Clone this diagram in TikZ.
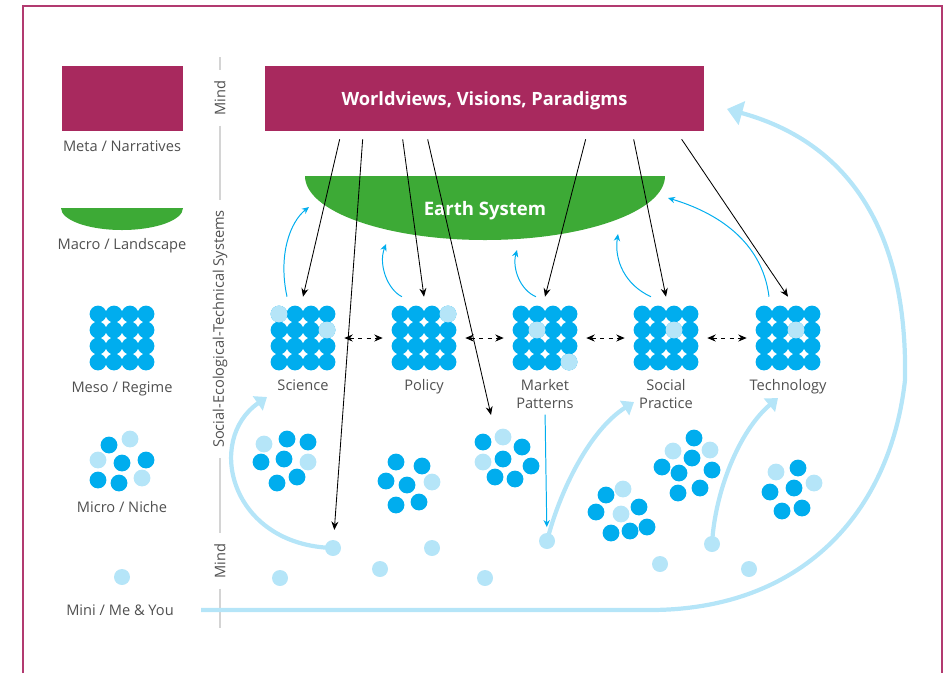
\documentclass[tikz,border=0pt]{standalone}
\usepackage{fontspec}
\setmainfont{Open Sans}
\usepackage{tikz}
\usetikzlibrary{calc, positioning, arrows.meta}

\definecolor{metaRed}{HTML}{A8295E}
\definecolor{earthGreen}{HTML}{3DAA36}
\definecolor{dotDark}{HTML}{00ADEE}
\definecolor{dotLight}{HTML}{B5E5F8}
\definecolor{txtGray}{HTML}{505050}
\definecolor{ruleGray}{HTML}{D4D4D4}
\definecolor{frameRed}{HTML}{B23A70}

\newcommand{\lblfont}{\fontsize{10.4}{12.8}\selectfont}

\tikzset{
	lbl/.style={text=txtGray, font=\lblfont, inner sep=0pt, align=center},
	sidelbl/.style={lbl, rotate=90, inner xsep=7pt},
	mini/.style={circle, fill=dotLight, inner sep=0pt, minimum size=0.4cm},
	mesobox/.style={inner sep=0pt, minimum size=2.05cm},
	push/.style={draw=black, line width=0.6pt, -{Stealth[length=6pt,width=5pt]}},
	link/.style={push, dash pattern=on 3pt off 3pt, {Stealth[length=6pt,width=5pt]}-{Stealth[length=6pt,width=5pt]}},
	feed/.style={draw=dotDark, line width=0.7pt, -{Stealth[length=5pt,width=4.5pt]}},
	flow/.style={draw=dotLight, line width=3pt, -{Triangle[length=8pt,width=12pt]}},
	rule/.style={draw=ruleGray, line width=1.4pt},
}

% 4x4 block of circles, #1 centre, #2 node name
\newcommand{\mesogrid}[2]{%
	\foreach \rr in {0,...,3}
		\foreach \cc in {0,...,3}
			\fill[dotDark] ($(#1)+(\cc*16-24,\rr*16-24)$) circle (0.21cm);
	\node[mesobox] (#2) at (#1) {};
}

\begin{document}
\begin{tikzpicture}[x=0.025cm, y=-0.025cm]
	\useasboundingbox (0,0) rectangle (947,673);

	% frame
	\draw[frameRed, line width=0.8pt] (23,673) -- (23,6) -- (942,6) -- (942,673);

	% left key
	\node[fill=metaRed, minimum width=3.025cm, minimum height=1.625cm, inner sep=0pt] (metaKey) at (122.5,98.5) {};
	\node[lbl] (metaLbl) at (122,146) {Meta / Narratives};
	\fill[earthGreen] (61,208) .. controls (61,220.15) and (88.3,230) .. (122,230)
		.. controls (155.7,230) and (183,220.15) .. (183,208) -- cycle;
	\node[lbl] (macroLbl) at (122,246) {Macro / Landscape};
	\mesogrid{122,338}{mesoKey}
	\node[lbl] (mesoLbl) at (122,389) {Meso / Regime};
	\node[lbl] (microLbl) at (122,507) {Micro / Niche};
	\node[mini] (miniKey) at (122,577) {};
	\node[lbl] (miniLbl) at (120,610) {Mini / Me \& You};

	% levels axis
	\node[sidelbl] (mindTop) at (220,98) {Mind};
	\node[sidelbl] (sets) at (220,329) {Social-Ecological-Technical Systems};
	\node[sidelbl] (mindBot) at (220,561) {Mind};
	\coordinate (axTop) at (220,57);
	\coordinate (axBot) at (220,628);
	\draw[rule] (axTop) -- (mindTop.east) (mindTop.west) -- (sets.east)
		(sets.west) -- (mindBot.east) (mindBot.west) -- (axBot);

	% meta level
	\node[fill=metaRed, text=white, font=\bfseries\fontsize{13}{15}\selectfont, text depth=0pt,
		minimum width=10.975cm, minimum height=1.625cm, inner sep=0pt] (wv) at (484.5,98.5) {Worldviews, Visions, Paradigms};

	% macro level
	\fill[earthGreen] (305,176) .. controls (305,211.35) and (385.6,240) .. (485,240)
		.. controls (584.4,240) and (665,211.35) .. (665,176) -- cycle;
	\node[text=white, font=\bfseries\fontsize{13.2}{15}\selectfont, text depth=0pt] (earth) at (485,208) {Earth System};

	% meso level
	\mesogrid{303,338}{sci}
	\mesogrid{424,338}{pol}
	\mesogrid{545,338}{mkt}
	\mesogrid{666,338}{soc}
	\mesogrid{788,338}{tec}
	\foreach \g/\rr/\cc in {sci/0/0, sci/1/3, pol/0/3, mkt/1/1, mkt/3/3, soc/1/2, tec/1/2}
		\fill[dotLight] ($(\g)+(\cc*16-24,\rr*16-24)$) circle (0.21cm);

	\node[lbl, below=0pt of sci] (sciLbl) {Science};
	\node[lbl, below=0pt of pol] (polLbl) {Policy};
	\node[lbl, below=0pt of mkt] (mktLbl) {Market\\Patterns};
	\node[lbl, below=0pt of soc] (socLbl) {Social\\Practice};
	\node[lbl, below=0pt of tec] (tecLbl) {Technology};

	\foreach \ga/\gb in {sci/pol, pol/mkt, mkt/soc, soc/tec}
		\draw[link] (\ga.east) -- (\gb.west);

	% micro level
	\foreach \x/\y in {109/445, 122/463, 146/460, 98/480, 119/483,
			287/439, 308/442, 261/462, 284/459, 297/477, 277/483,
			396/462, 422/466, 386/481, 407/485, 396/505, 419/502,
			483/442, 522/447, 503/459, 531/466, 495/477, 515/479,
			606/495, 596/512, 639/507, 611/533, 630/531, 647/527,
			694/438, 692/458, 662/467, 679/473, 712/470, 678/493, 700/488,
			798/468, 770/492, 794/488, 782/511, 802/508}
		\fill[dotDark] (\x,\y) circle (0.21cm);
	\foreach \x/\y in {130/439, 98/460, 142/478, 264/444, 308/462, 432/482,
			503/437, 483/462, 623/489, 621/514, 673/451, 710/450, 776/472, 814/483}
		\fill[dotLight] (\x,\y) circle (0.21cm);

	% mini level
	\foreach \n/\x/\y in {1/280/578, 2/333/548, 3/380/569, 4/432/548, 5/485/578,
			6/547/541, 7/660/564, 8/712/544, 9/749/569}
		\node[mini] (me\n) at (\x,\y) {};

	% top-down influence
	\foreach \dx/\g in {75/sci, 138/pol, 321/mkt, 369/soc, 417/tec}
		\draw[push] ($(wv.south west)+(\dx,8)$) -- (\g.north);
	\draw[push, shorten >=7pt] ($(wv.south west)+(98,8)$) -- (me2);
	\coordinate (nicheIn) at (491,415);
	\draw[push] ($(wv.south west)+(163,8)$) -- (nicheIn);

	% feedback to the earth system
	\coordinate (es1) at (309,207);
	\coordinate (es2) at (386,244);
	\coordinate (es3) at (517,250);
	\coordinate (es4) at (618,234);
	\coordinate (es5) at (668,198);
	\draw[feed] ($(sci.north)+(-16,0)$) .. controls (278,255) and (290,222) .. (es1);
	\draw[feed] ($(pol.north)+(-22,0)$) .. controls (388,290) and (378,265) .. (es2);
	\draw[feed] ($(mkt.north)+(-9,0)$) .. controls (520,290) and (512,268) .. (es3);
	\draw[feed] ($(soc.north)+(-15,0)$) .. controls (625,285) and (614,260) .. (es4);
	\draw[feed] ($(tec.north)+(-19,0)$) .. controls (762,240) and (715,212) .. (es5);
	\draw[feed, shorten <=4pt, shorten >=4pt] (mktLbl.south) -- (me6);

	% bottom-up change
	\coordinate (sciIn) at (267,397);
	\coordinate (socIn) at (634,402);
	\coordinate (tecIn) at (778,398);
	\coordinate (wvIn) at (727,109);
	\draw[flow] (me2.center) .. controls (230,545) and (205,440) .. (sciIn);
	\draw[flow] (me6.center) .. controls (560,490) and (590,430) .. (socIn);
	\draw[flow] (me8.center) .. controls (715,490) and (740,430) .. (tecIn);
	\draw[flow, -{Triangle[length=11pt,width=17pt]}] ($(miniLbl.east)+(27,0)$) -- (650,610)
		.. controls (800,610) and (890,515) .. (905,380)
		.. controls (908,220) and (840,140) .. (wvIn);
\end{tikzpicture}
\end{document}
